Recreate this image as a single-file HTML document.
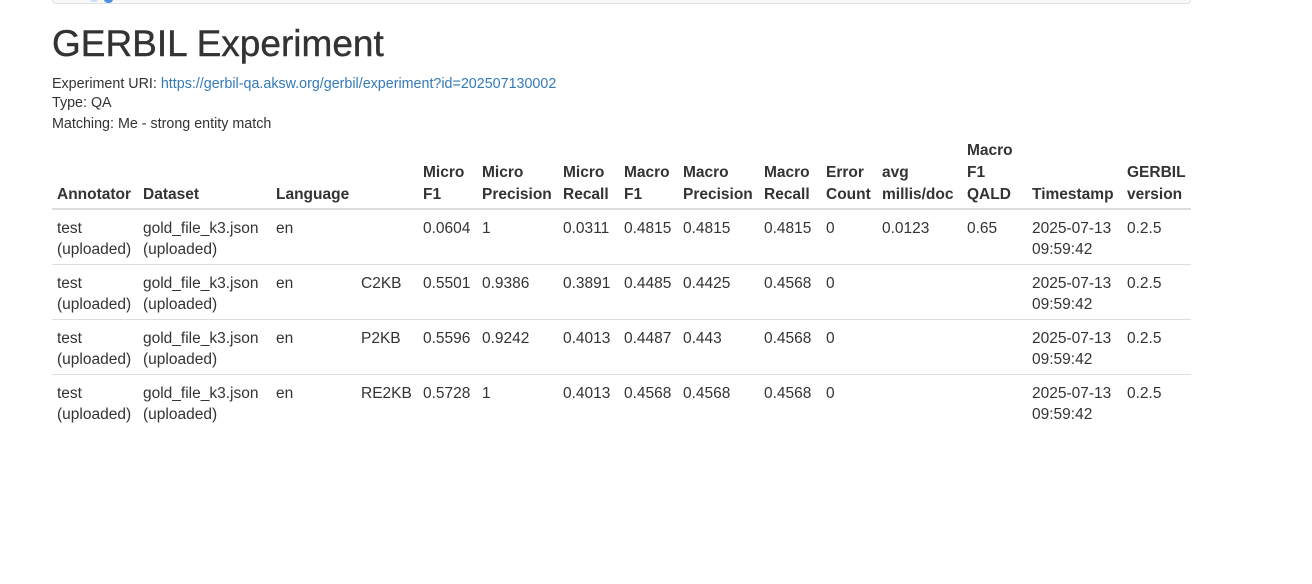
<!DOCTYPE html>
<html><head><meta charset="utf-8">
<style>
html,body{margin:0;padding:0;background:#fff;width:1312px;height:584px;overflow:hidden}
body{font-family:"Liberation Sans",Arial,sans-serif;color:#333;position:relative}
.nav{position:absolute;left:52px;top:-10px;width:1137px;height:12px;border:1px solid #e2e2e2;border-radius:4px;background:#f8f8f8}
.dot{position:absolute;left:104px;top:-4px;width:9px;height:7px;border-radius:50%;background:#4a8fe0}
.dot2{position:absolute;left:90px;top:-4px;width:8px;height:6px;border-radius:50%;background:#c9dcf4}
h1{position:absolute;left:52px;top:22px;margin:0;font-size:37px;font-weight:normal;line-height:44px;color:#333;-webkit-text-stroke:0.4px #333}
.info{position:absolute;left:52px;font-size:14.3px;line-height:16px}
.info a{color:#337ab7;text-decoration:none}
table{position:absolute;left:52px;top:134px;border-collapse:collapse;table-layout:fixed;width:1139px;font-size:15.5px}
th{font-weight:bold;text-align:left;vertical-align:bottom;padding:6px 5px 2px 5px;line-height:22px;border-bottom:2px solid #ddd;white-space:nowrap}
td{vertical-align:top;padding:8px 5px 4px 5px;line-height:21px;border-top:1px solid #ddd;white-space:nowrap}
tr.first td{border-top:none}
</style></head><body>
<div class="nav"></div>
<div class="dot2"></div>
<div class="dot"></div>
<h1>GERBIL Experiment</h1>
<div class="info" style="top:76px">Experiment URI: <a href="#">https://gerbil-qa.aksw.org/gerbil/experiment?id=202507130002</a></div>
<div class="info" style="top:95px">Type: QA</div>
<div class="info" style="top:116px">Matching: Me - strong entity match</div>
<table>
<colgroup><col style="width:86px"><col style="width:133px"><col style="width:85px"><col style="width:62px"><col style="width:59px"><col style="width:81px"><col style="width:61px"><col style="width:59px"><col style="width:81px"><col style="width:62px"><col style="width:56px"><col style="width:85px"><col style="width:65px"><col style="width:95px"><col style="width:69px"></colgroup>
<thead><tr>
<th>Annotator</th>
<th>Dataset</th>
<th>Language</th>
<th></th>
<th>Micro<br>F1</th>
<th>Micro<br>Precision</th>
<th>Micro<br>Recall</th>
<th>Macro<br>F1</th>
<th>Macro<br>Precision</th>
<th>Macro<br>Recall</th>
<th>Error<br>Count</th>
<th>avg<br>millis/doc</th>
<th>Macro<br>F1<br>QALD</th>
<th>Timestamp</th>
<th>GERBIL<br>version</th>
</tr></thead>
<tbody>
<tr class="first"><td>test<br>(uploaded)</td><td>gold_file_k3.json<br>(uploaded)</td><td>en</td><td></td><td>0.0604</td><td>1</td><td>0.0311</td><td>0.4815</td><td>0.4815</td><td>0.4815</td><td>0</td><td>0.0123</td><td>0.65</td><td>2025-07-13<br>09:59:42</td><td>0.2.5</td></tr>
<tr><td>test<br>(uploaded)</td><td>gold_file_k3.json<br>(uploaded)</td><td>en</td><td>C2KB</td><td>0.5501</td><td>0.9386</td><td>0.3891</td><td>0.4485</td><td>0.4425</td><td>0.4568</td><td>0</td><td></td><td></td><td>2025-07-13<br>09:59:42</td><td>0.2.5</td></tr>
<tr><td>test<br>(uploaded)</td><td>gold_file_k3.json<br>(uploaded)</td><td>en</td><td>P2KB</td><td>0.5596</td><td>0.9242</td><td>0.4013</td><td>0.4487</td><td>0.443</td><td>0.4568</td><td>0</td><td></td><td></td><td>2025-07-13<br>09:59:42</td><td>0.2.5</td></tr>
<tr><td>test<br>(uploaded)</td><td>gold_file_k3.json<br>(uploaded)</td><td>en</td><td>RE2KB</td><td>0.5728</td><td>1</td><td>0.4013</td><td>0.4568</td><td>0.4568</td><td>0.4568</td><td>0</td><td></td><td></td><td>2025-07-13<br>09:59:42</td><td>0.2.5</td></tr>
</tbody></table>
</body></html>
